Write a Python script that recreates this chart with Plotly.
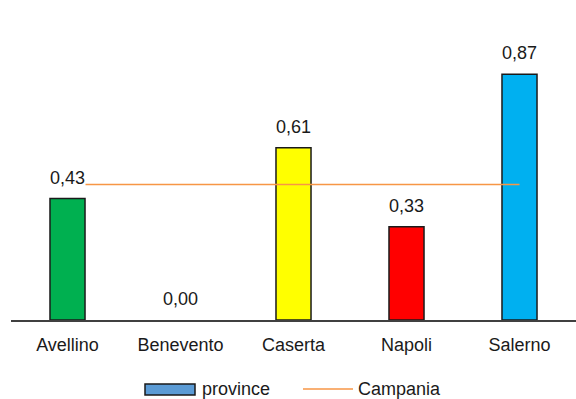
import plotly.graph_objects as go

categories = ["Avellino", "Benevento", "Caserta", "Napoli", "Salerno"]
province = [0.43, 0.00, 0.61, 0.33, 0.87]
campania = [0.48, 0.48, 0.48, 0.48, 0.48]
bar_colors = ["#00B050", "#7F7F7F", "#FFFF00", "#FF0000", "#00B0F0"]
labels = ["0,43", "0,00", "0,61", "0,33", "0,87"]

FONT = "Liberation Sans, Arial, sans-serif"
TXT = "#1a1a1a"

fig = go.Figure()
fig.add_trace(go.Bar(
    x=categories, y=province, width=0.31,
    marker=dict(color=bar_colors,
                line=dict(color="#1a1a1a",
                          width=[1.5 if v > 0 else 0 for v in province])),
    showlegend=False, hoverinfo="skip",
))
fig.add_trace(go.Scatter(
    x=categories, y=campania, mode="lines",
    line=dict(color="#F79646", width=1.5),
    showlegend=False, hoverinfo="skip",
))

for c, v, t in zip(categories, province, labels):
    fig.add_annotation(x=c, y=v, text=t, showarrow=False, yanchor="middle",
                       yshift=21, font=dict(family=FONT, size=18, color=TXT),
                       bgcolor="white", borderpad=0)

# custom legend
L, W, B, H = 11, 565, 320, 300
def px(x):
    return (x - L) / W
def py(y):
    return (B - y) / H

fig.add_shape(type="rect", xref="paper", yref="paper",
              x0=px(145), x1=px(195), y0=py(395), y1=py(384),
              fillcolor="#5B9BD5", line=dict(color="#1a1a1a", width=1.5))
fig.add_annotation(xref="paper", yref="paper", x=px(200), y=py(389),
                   xanchor="left", yanchor="middle", text="province",
                   showarrow=False, font=dict(family=FONT, size=18, color=TXT))
fig.add_shape(type="line", xref="paper", yref="paper",
              x0=px(303), x1=px(353), y0=py(389), y1=py(389),
              line=dict(color="#F79646", width=1.5))
fig.add_annotation(xref="paper", yref="paper", x=px(356), y=py(389),
                   xanchor="left", yanchor="middle", text="Campania",
                   showarrow=False, font=dict(family=FONT, size=18, color=TXT))

fig.update_layout(
    width=576, height=399,
    margin=dict(l=L, r=0, t=20, b=79, autoexpand=False),
    paper_bgcolor="white", plot_bgcolor="white",
    font=dict(family=FONT, size=18, color=TXT),
    xaxis=dict(showline=True, linecolor="#404040", linewidth=2,
               showgrid=False, ticks="outside", ticklen=7,
               tickcolor="rgba(0,0,0,0)", tickfont=dict(size=18),
               automargin=False, fixedrange=True),
    yaxis=dict(range=[0, 1.062], visible=False, showgrid=False,
               zeroline=False, automargin=False, fixedrange=True),
    showlegend=False,
)

fig.write_html("out.html", config={"displayModeBar": False},
               post_script="document.body.style.margin='0';document.body.style.padding='0';")
